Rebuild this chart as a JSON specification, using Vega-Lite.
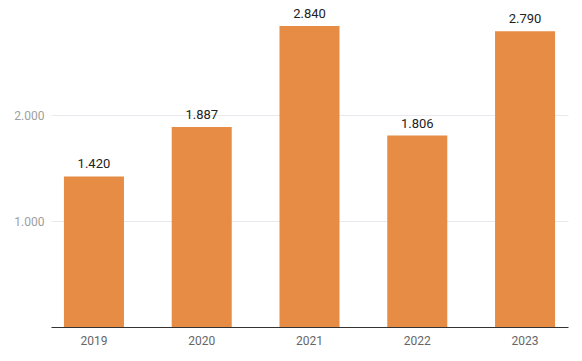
{
  "$schema": "https://vega.github.io/schema/vega-lite/v6.json",
  "width": 517,
  "height": 318,
  "autosize": {"type": "none"},
  "padding": {"left": 51, "top": 9, "right": 14, "bottom": 34},
  "config": {
    "locale": {"number": {"decimal": ",", "thousands": ".", "grouping": [3], "currency": ["", " €"]}},
    "font": "Roboto",
    "view": {"stroke": null}
  },
  "data": {"values": [
    {"year": "2019", "value": 1420},
    {"year": "2020", "value": 1887},
    {"year": "2021", "value": 2840},
    {"year": "2022", "value": 1806},
    {"year": "2023", "value": 2790}
  ]},
  "encoding": {
    "x": {"field": "year", "type": "nominal", "scale": {"paddingInner": 0.443, "paddingOuter": 0.12},
      "axis": {"title": null, "labelAngle": 0, "ticks": false, "domain": true, "domainColor": "#333", "domainWidth": 1.2, "labelColor": "#666", "labelFontSize": 12, "labelPadding": 8}},
    "y": {"field": "value", "type": "quantitative", "scale": {"domain": [0, 3000], "nice": false},
      "axis": {"title": null, "values": [1000, 2000], "format": ",d", "ticks": false, "domain": false, "labelColor": "#9e9e9e", "labelFontSize": 12, "labelPadding": 7, "gridColor": "#e8e8ee", "gridWidth": 1}}
  },
  "layer": [
    {"mark": {"type": "bar", "color": "#E68C45"}},
    {"mark": {"type": "text", "dy": -12, "fontSize": 13, "color": "#222"},
     "encoding": {"text": {"field": "value", "type": "quantitative", "format": ",d"}}}
  ]
}
